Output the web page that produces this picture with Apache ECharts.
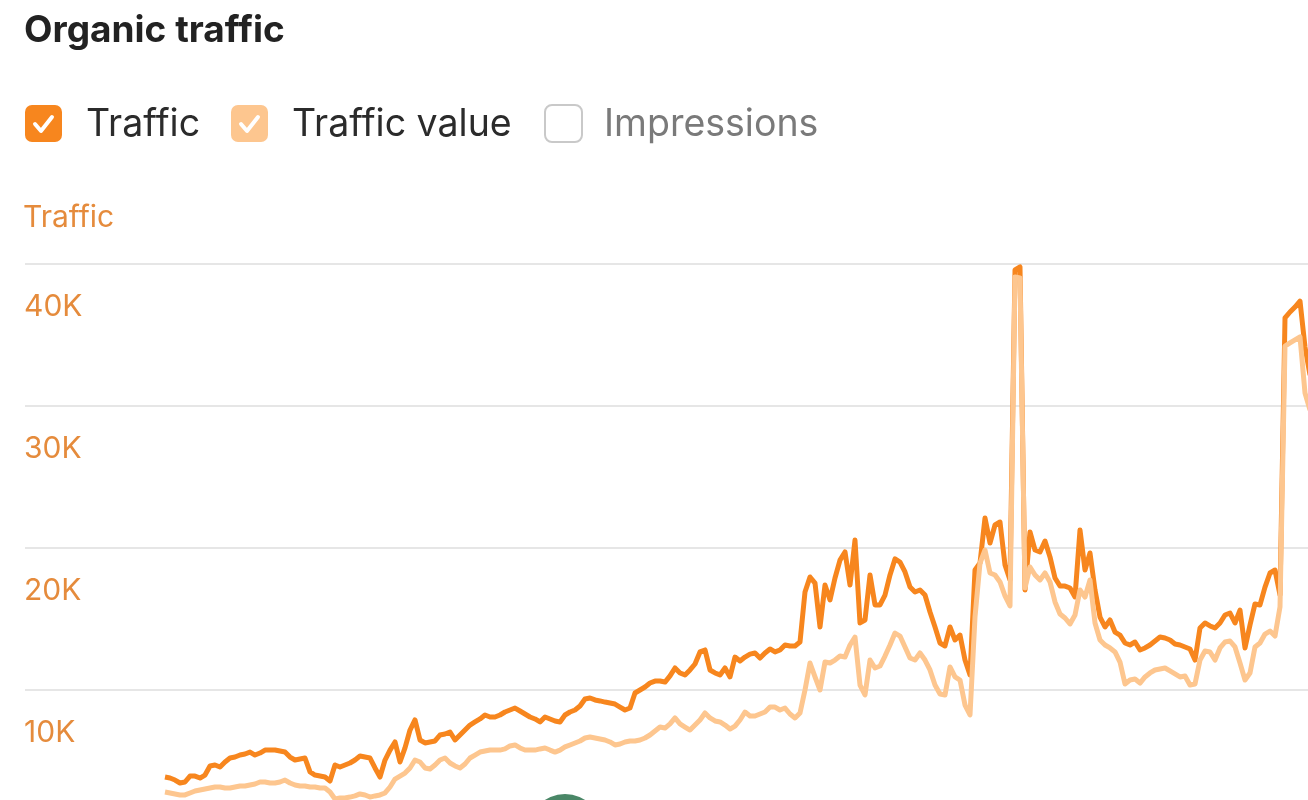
<!DOCTYPE html>
<html>
<head>
<meta charset="utf-8">
<script src="https://cdn.jsdelivr.net/npm/echarts@6/dist/echarts.min.js"></script>
<style>
  html, body { margin: 0; padding: 0; background: #ffffff; overflow: hidden; height: 800px; }
  #chart { width: 1310px; height: 832px; }
</style>
</head>
<body>
<div id="chart"></div>
<script>
// ---------- DATA ----------
const titleText = 'Organic traffic';
const legendItems = ['Traffic', 'Traffic value', 'Impressions'];
const axisName = 'Traffic';
const yTicks = [0, 10000, 20000, 30000, 40000];

// weekly observations, first week and the first visible axis week
const firstWeek = '2019-01-06';
const axisStartWeek = '2018-06-24';

// Traffic (weekly)
const traffic = [
  3870,3800,3660,3450,3520,3940,3940,3800,4010,4650,
  4720,4580,4930,5210,5280,5420,5490,5630,5420,5560,
  5770,5770,5770,5700,5630,5280,5070,5140,5210,4230,
  4010,3940,3870,3590,4720,4580,4720,4860,5070,5350,
  5280,5210,4510,3870,5070,5770,6340,4930,5920,7180,
  7890,6480,6270,6340,6410,6830,6900,7040,6480,6830,
  7180,7530,7750,7960,8240,8100,8100,8240,8450,8590,
  8730,8520,8310,8100,7960,7750,8100,7960,7820,7750,
  8240,8450,8590,8870,9370,9440,9300,9230,9150,9080,
  9010,8800,8590,8730,9790,10000,10210,10490,10630,10630,
  10560,10990,11550,11200,11060,11410,11830,12680,12820,11410,
  11200,11060,11550,10920,12320,12040,12320,12530,12610,12250,
  12610,12890,12680,12820,13170,13100,13100,13380,16900,17960,
  17530,14440,17390,16340,17890,19150,19720,17390,20560,14720,
  14930,18100,15990,15990,16690,18100,19230,19010,18310,17250,
  16900,17040,16690,15490,14440,13310,13100,14440,13520,13870,
  12110,11060,18450,18940,22110,20350,21620,21830,18800,17750,
  39580,39790,17040,21130,19860,19720,20490,19370,17890,17320,
  17320,17180,16550,21270,18450,19650,17040,15140,14440,14930,
  14080,13870,13310,13170,13380,12820,12960,13170,13450,13730,
  13660,13520,13240,13170,13030,12890,12110,14370,14720,14510,
  14370,14720,15280,15420,14720,15630,12960,14580,16060,15990,
  17250,18240,18450,16690,36200,36620,36970,37390,34150,32180
];

// Traffic value (weekly, drawn on its own hidden scale)
const trafficValue = [
  2820,2750,2680,2610,2610,2750,2890,2960,3030,3100,
  3170,3170,3100,3100,3170,3240,3240,3310,3380,3520,
  3520,3450,3450,3520,3660,3450,3310,3240,3240,3170,
  3170,3100,3100,2820,2320,2390,2390,2460,2540,2680,
  2610,2460,2540,2610,2750,3170,3730,3940,4150,4510,
  5070,4930,4510,4440,4720,5070,5210,4860,4650,4510,
  4790,5210,5420,5630,5700,5770,5770,5770,5850,6060,
  6130,5920,5770,5770,5770,5850,5920,5770,5630,5770,
  5990,6130,6270,6410,6620,6690,6620,6550,6480,6340,
  6130,6200,6340,6410,6410,6480,6620,6830,7110,7390,
  7320,7610,8030,7610,7390,7180,7530,7890,8380,8030,
  7820,7750,7530,7250,7460,7890,8450,8170,8170,8310,
  8450,8800,8800,8590,8730,8310,8030,8380,10000,11900,
  10920,10000,11970,11900,12110,12390,12320,13170,13730,10350,
  9650,12110,11550,11690,12390,13170,14010,13800,13030,12250,
  12110,12610,12110,11410,10350,9720,9650,11620,10920,10700,
  8940,8240,15140,18940,19860,18240,18100,17610,16620,15920,
  39080,39010,17180,18660,18100,17750,18240,17610,16200,15350,
  15070,14650,15280,17040,16550,17750,14720,13520,13170,12960,
  12680,11970,10420,10700,10770,10490,10920,11200,11410,11480,
  11550,11340,11130,10920,10990,10350,10420,12110,12750,12680,
  12110,12960,13380,13450,13030,11900,10700,11200,13030,13310,
  13940,14150,13800,15850,34220,34440,34650,34860,30910,29720
];

// annotation markers on the time axis
const annotations = [['2020-07-19', 0]];

// ---------- BUILD ----------
const DAY = 86400000;
const t0 = Date.parse(firstWeek + 'T00:00:00Z');
const weeks = traffic.map((_, i) => t0 + i * 7 * DAY);
const trafficData = weeks.map((t, i) => [t, traffic[i]]);
const valueData = weeks.map((t, i) => [t, trafficValue[i]]);
const annotationData = annotations.map(a => [Date.parse(a[0] + 'T00:00:00Z'), a[1]]);

const C_TRAFFIC = '#f7861e';
const C_VALUE = '#fdc68f';
const C_AXIS = '#e58b3c';
const FONT = 'Inter, Roboto, "Noto Sans", sans-serif';

function checkbox(x, filled, color) {
  const els = [{
    type: 'rect',
    shape: { x: x, y: 105, width: 37, height: 37, r: 7 },
    style: filled ? { fill: color } : { fill: '#ffffff', stroke: '#c9c9c9', lineWidth: 2 }
  }];
  if (filled) {
    els.push({
      type: 'polyline',
      shape: { points: [[x + 10, 124], [x + 16, 131], [x + 27, 117]] },
      style: { stroke: '#ffffff', lineWidth: 4, fill: null, lineCap: 'round', lineJoin: 'round' }
    });
  }
  return els;
}

const LEG_FONT = '37.5px ' + FONT;
const graphics = [].concat(
  checkbox(25, true, C_TRAFFIC),
  [{ type: 'text', x: 86, y: 125, style: { text: legendItems[0], font: LEG_FONT, fill: '#2b2b2b', verticalAlign: 'middle' } }],
  checkbox(231, true, C_VALUE),
  [{ type: 'text', x: 292, y: 125, style: { text: legendItems[1], font: LEG_FONT, fill: '#2b2b2b', verticalAlign: 'middle' } }],
  checkbox(545, false),
  [{ type: 'text', x: 604, y: 125, style: { text: legendItems[2], font: LEG_FONT, fill: '#7a7a7a', verticalAlign: 'middle' } }]
);

const chart = echarts.init(document.getElementById('chart'), null, { renderer: 'canvas' });
chart.setOption({
  animation: false,
  backgroundColor: '#ffffff',
  title: {
    text: titleText, left: 24, top: 12, padding: 0,
    textStyle: { fontFamily: FONT, fontSize: 37, fontWeight: 700, color: '#222222' }
  },
  graphic: graphics,
  grid: { left: 25, right: 0, top: 264, bottom: 0, containLabel: false },
  xAxis: {
    type: 'time',
    min: Date.parse(axisStartWeek + 'T00:00:00Z'),
    max: weeks[weeks.length - 1],
    axisLine: { show: false }, axisTick: { show: false }, axisLabel: { show: false },
    splitLine: { show: false }
  },
  yAxis: [{
    type: 'value',
    min: yTicks[0], max: yTicks[yTicks.length - 1], interval: yTicks[1] - yTicks[0],
    name: axisName,
    nameLocation: 'end',
    nameGap: 31,
    nameTextStyle: { color: C_AXIS, fontSize: 30, fontFamily: FONT, align: 'left', padding: [0, 0, 0, -2] },
    axisLine: { show: false }, axisTick: { show: false },
    axisLabel: {
      inside: true, margin: -1, color: C_AXIS, fontSize: 30, fontFamily: FONT,
      verticalAlign: 'top', padding: [28, 0, 0, 0],
      formatter: v => v === 0 ? '' : (v / 1000) + 'K'
    },
    splitLine: { show: true, lineStyle: { color: '#e6e6e6', width: 2 } }
  }, {
    type: 'value', min: yTicks[0], max: yTicks[yTicks.length - 1], show: false,
    splitLine: { show: false }
  }],
  series: [{
    name: legendItems[0], type: 'line', yAxisIndex: 0, data: trafficData,
    showSymbol: false, symbol: 'none',
    lineStyle: { color: C_TRAFFIC, width: 5, join: 'round' }, itemStyle: { color: C_TRAFFIC }
  }, {
    name: legendItems[1], type: 'line', yAxisIndex: 1, data: valueData,
    showSymbol: false, symbol: 'none',
    lineStyle: { color: C_VALUE, width: 5, join: 'round' }, itemStyle: { color: C_VALUE }
  }, {
    name: 'Annotations', type: 'scatter', yAxisIndex: 0, data: annotationData,
    symbolSize: 76, itemStyle: { color: '#4a8767', opacity: 1 }, clip: false, z: 1
  }]
});
</script>
</body>
</html>
